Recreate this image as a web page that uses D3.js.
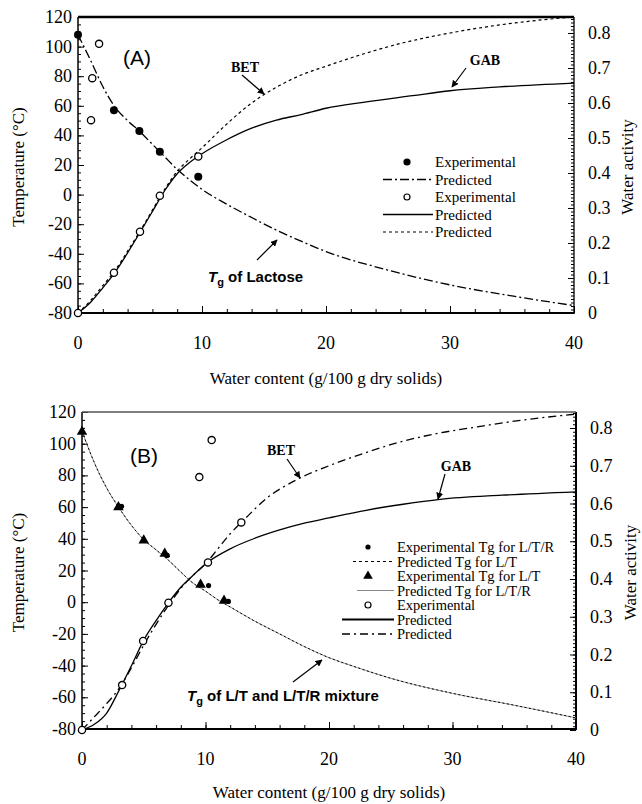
<!DOCTYPE html>
<html><head><meta charset="utf-8">
<script src="https://cdn.jsdelivr.net/npm/d3@7"></script>
<style>
body{margin:0;background:#fff}
svg{display:block}
.serif{font-family:"Liberation Serif","Times New Roman",Times,serif}
.sans{font-family:"Liberation Sans",Arial,Helvetica,sans-serif}
</style>
</head><body>
<svg id="chart" width="642" height="804"></svg>
<script>
// ---------- shared axis values ----------
const waterTicks = [0, 10, 20, 30, 40];
const tempTicks = [-80, -60, -40, -20, 0, 20, 40, 60, 80, 100, 120];
const awTicks = [0, 0.1, 0.2, 0.3, 0.4, 0.5, 0.6, 0.7, 0.8];
const awTickLabels = ["0", "0.1", "0.2", "0.3", "0.4", "0.5", "0.6", "0.7", "0.8"];

// ---------- panel A : lactose ----------
const aTgExpWater = [0, 2.9, 4.95, 6.6, 9.7];
const aTgExpTemp = [108, 57, 43, 29, 12];
const aAwExpWater = [0, 1.05, 1.15, 1.7, 2.9, 5.0, 6.6, 9.7];
const aAwExpValue = [0, 0.551, 0.671, 0.769, 0.115, 0.232, 0.335, 0.447];
const aTgPredWater = [0, 1, 2, 3, 4, 5, 6, 7, 8, 9, 10, 12, 14, 16, 18, 20, 25, 30, 35, 40];
const aTgPredTemp = [108, 91, 73, 59, 50, 42.5, 34, 25.5, 17, 10, 3.5, -6.5, -15.5, -24, -31.5, -38.5, -51, -61, -68.5, -75];
const aGabWater = [0, 1, 2, 3, 4, 5, 6, 7, 8, 9, 10, 12, 14, 16, 18, 20, 23, 27, 30, 34, 40];
const aGabAw = [0, 0.03, 0.072, 0.117, 0.172, 0.23, 0.29, 0.35, 0.398, 0.43, 0.455, 0.495, 0.528, 0.551, 0.567, 0.585, 0.602, 0.621, 0.635, 0.646, 0.657];
const aBetWater = [0, 1, 2, 3, 4, 5, 6, 7, 8, 9, 10, 12, 14, 16, 18, 20, 23, 26, 30, 34, 37, 40];
const aBetAw = [0, 0.035, 0.078, 0.122, 0.177, 0.234, 0.294, 0.354, 0.405, 0.44, 0.472, 0.54, 0.6, 0.645, 0.68, 0.705, 0.74, 0.77, 0.8, 0.823, 0.836, 0.846];

// ---------- panel B : L/T and L/T/R mixtures ----------
const bTgLTExpWater = [0, 2.95, 5.0, 6.7, 9.6, 11.5];
const bTgLTExpTemp = [107.5, 60, 39, 30.6, 11.1, 1];
const bTgLTRExpWater = [3.2, 6.9, 10.25, 11.85];
const bTgLTRExpTemp = [60.5, 29.5, 10.5, 0.5];
const bAwExpWater = [0, 3.25, 4.95, 7.0, 10.2, 12.9, 9.5, 10.5];
const bAwExpValue = [0, 0.119, 0.236, 0.337, 0.444, 0.55, 0.67, 0.768];
const bTgPredWater = [0, 1, 2, 3, 4, 5, 6, 7, 8, 9, 10, 11, 12, 14, 16, 18, 20, 22, 25, 30, 35, 40];
const bTgLTPredTemp = [108, 88, 72, 59.5, 48.5, 39.5, 33, 26.5, 19, 12, 7, 1.5, -3, -12, -20, -28, -35, -40.5, -48, -57.5, -65, -73];
const bTgLTRPredTemp = [108, 88, 72, 59.5, 48.5, 39.5, 33, 26.5, 19, 12, 7, 1.5, -3, -12, -20, -28, -35, -40.5, -48, -57.5, -65, -73];
const bGabWater = [0, 1, 2, 3, 4, 5, 6, 7, 8, 9, 10, 12, 14, 16, 18, 20, 23, 26, 29, 34, 40];
const bGabAw = [0, 0.015, 0.045, 0.105, 0.17, 0.238, 0.29, 0.337, 0.378, 0.41, 0.44, 0.48, 0.508, 0.53, 0.548, 0.562, 0.582, 0.598, 0.611, 0.622, 0.631];
const bBetWater = [0, 1, 2, 3, 4, 5, 6, 7, 8, 9, 10, 11, 12, 13, 15, 17.5, 20, 23, 26, 29, 32, 35, 40];
const bBetAw = [0, 0.035, 0.07, 0.11, 0.165, 0.225, 0.28, 0.33, 0.375, 0.41, 0.44, 0.48, 0.52, 0.553, 0.615, 0.665, 0.7, 0.735, 0.765, 0.787, 0.803, 0.818, 0.837];

const svg = d3.select("#chart");

// arrow head marker
svg.append("defs").append("marker")
  .attr("id", "head").attr("viewBox", "0 0 10 10").attr("refX", 9).attr("refY", 5)
  .attr("markerWidth", 7).attr("markerHeight", 7).attr("markerUnits", "userSpaceOnUse")
  .attr("orient", "auto")
  .append("path").attr("d", "M0,0L10,5L0,10Z").attr("fill", "#000");

const zip = (xs, ys) => xs.map((x, i) => [x, ys[i]]);

function makePanel(box) {
  const g = svg.append("g");
  const x = d3.scaleLinear().domain([0, 40]).range([box.x0, box.x1]);
  const t = d3.scaleLinear().domain([-80, 120]).range([box.yb, box.yt]);
  const a = d3.scaleLinear().domain([0, 0.8]).range([box.ab, box.a8]);

  // minor + major ticks, all pointing inwards
  const tick = (axis, yOff, xOff) => g.append("g")
    .attr("transform", `translate(${xOff},${yOff})`).call(axis)
    .call(s => s.select(".domain").remove())
    .call(s => s.selectAll("text").remove())
    .call(s => s.selectAll("line").attr("stroke", "#000").attr("stroke-width", 1));

  tick(d3.axisLeft(t).tickValues(d3.range(-80, 121, 5)).tickSize(-3), 0, box.x0);
  tick(d3.axisLeft(t).tickValues(tempTicks).tickSize(-6), 0, box.x0);
  tick(d3.axisBottom(x).tickValues(d3.range(0, 41, 2)).tickSize(-4), box.yb, 0);
  tick(d3.axisBottom(x).tickValues(waterTicks).tickSize(-7), box.yb, 0);
  const awMinor = d3.range(0, 85).map(i => i / 100).filter(v => a(v) >= box.yt);
  tick(d3.axisRight(a).tickValues(awMinor).tickSize(-3), 0, box.x1);
  tick(d3.axisRight(a).tickValues(awTicks).tickSize(-6), 0, box.x1);

  // frame
  const line = (x1, y1, x2, y2, w, c) => g.append("line")
    .attr("x1", x1).attr("y1", y1).attr("x2", x2).attr("y2", y2)
    .attr("stroke", c || "#000").attr("stroke-width", w);
  line(box.x0, box.yt, box.x0, box.yb, 1.5);
  line(box.x0, box.yb, box.x1, box.yb, 2.2);
  line(box.x1, box.yt, box.x1, box.yb + 1, box.rightW);
  line(box.x0, box.yt, box.x1, box.yt, box.topW, box.topC);

  // tick labels
  const lab = (txt, px, py, anchor) => g.append("text").text(txt).attr("class", "serif")
    .attr("x", px).attr("y", py).attr("text-anchor", anchor)
    .attr("font-size", 18).attr("fill", "#000");
  tempTicks.forEach(v => lab(String(v), box.x0 - 6, t(v) + 6, "end"));
  waterTicks.forEach(v => lab(String(v), x(v), box.yb + 36, "middle"));
  awTicks.forEach((v, i) => lab(awTickLabels[i], box.x1 + 14, a(v) + 6, "start"));

  // axis titles
  g.append("text").text("Water content (g/100 g dry solids)").attr("class", "serif")
    .attr("x", (box.x0 + box.x1) / 2).attr("y", box.yb + box.xTitleOff).attr("text-anchor", "middle")
    .attr("font-size", 17);
  g.append("text").text("Temperature (°C)").attr("class", "serif")
    .attr("transform", `translate(${box.tTitleX},${(box.yt + box.yb) / 2 + 2}) rotate(-90)`)
    .attr("text-anchor", "middle").attr("font-size", 17);
  g.append("text").text("Water activity").attr("class", "serif")
    .attr("transform", `translate(${box.aTitleX},${(box.yt + box.yb) / 2 + 2}) rotate(-90)`)
    .attr("text-anchor", "middle").attr("font-size", 17);

  return { g, x, t, a };
}

function curve(p, pts, yScale, style) {
  p.g.append("path")
    .attr("d", d3.line().x(d => p.x(d[0])).y(d => yScale(d[1])).curve(d3.curveMonotoneX)(pts))
    .attr("fill", "none").attr("stroke", style.color || "#000")
    .attr("stroke-width", style.width || 1.3)
    .attr("stroke-dasharray", style.dash || null);
}
function circles(p, pts, yScale, r, filled) {
  p.g.selectAll(null).data(pts).enter().append("circle")
    .attr("cx", d => p.x(d[0])).attr("cy", d => yScale(d[1])).attr("r", r)
    .attr("fill", filled ? "#000" : "#fff").attr("stroke", "#000").attr("stroke-width", filled ? 0 : 1.3);
}
function triangles(p, pts, yScale) {
  const sym = d3.symbol().type(d3.symbolTriangle).size(48);
  p.g.selectAll(null).data(pts).enter().append("path")
    .attr("d", sym).attr("transform", d => `translate(${p.x(d[0])},${yScale(d[1])})`).attr("fill", "#000");
}
function arrow(p, x1, y1, x2, y2) {
  p.g.append("line").attr("x1", x1).attr("y1", y1).attr("x2", x2).attr("y2", y2)
    .attr("stroke", "#000").attr("stroke-width", 1.2).attr("marker-end", "url(#head)");
}
function note(p, txt, px, py, size, cls, anchor) {
  p.g.append("text").text(txt).attr("class", cls).attr("x", px).attr("y", py)
    .attr("font-size", size).attr("font-weight", "bold")
    .attr("text-anchor", anchor || "middle");
}
function tgNote(p, rest, px, py) {
  const tx = p.g.append("text").attr("class", "sans").attr("x", px).attr("y", py)
    .attr("font-size", 15).attr("font-weight", "bold");
  tx.append("tspan").text("T").attr("font-style", "italic");
  tx.append("tspan").text("g").attr("font-size", 11).attr("dy", 4);
  tx.append("tspan").text(" " + rest).attr("dy", -4);
}

// ================= Panel A =================
const A = makePanel({ x0: 78, x1: 574, yt: 17, yb: 313, ab: 313, a8: 33,
  rightW: 1.3, topW: 2.5, topC: "#000", tTitleX: 24, aTitleX: 633, xTitleOff: 71 });

curve(A, zip(aTgPredWater, aTgPredTemp), A.t, { dash: "9,3,2,3" });
curve(A, zip(aGabWater, aGabAw), A.a, {});
curve(A, zip(aBetWater, aBetAw), A.a, { dash: "3,3", width: 1.2 });
circles(A, zip(aTgExpWater, aTgExpTemp), A.t, 4, true);
circles(A, zip(aAwExpWater, aAwExpValue), A.a, 3.6, false);

A.g.append("text").text("(A)").attr("class", "sans").attr("x", 137).attr("y", 65)
  .attr("text-anchor", "middle").attr("font-size", 21);
note(A, "BET", 245, 72, 14, "serif");
arrow(A, 242, 75, 264, 94);
note(A, "GAB", 485, 65, 14, "serif");
arrow(A, 466, 68, 452, 87);
tgNote(A, "of Lactose", 208, 282);
arrow(A, 257, 260, 277, 240);

// legend A
{
  const lx0 = 383, lx1 = 433, cx = 407, tx = 435, rows = [162, 179.5, 197, 214.5, 232];
  const L = A.g.append("g");
  const txt = (s, y) => L.append("text").text(s).attr("class", "serif").attr("x", tx).attr("y", y + 5)
    .attr("font-size", 15);
  const seg = (y, dash, w) => L.append("line").attr("x1", lx0).attr("x2", lx1).attr("y1", y).attr("y2", y)
    .attr("stroke", "#000").attr("stroke-width", w || 1.3).attr("stroke-dasharray", dash || null);
  L.append("circle").attr("cx", cx).attr("cy", rows[0]).attr("r", 3.6).attr("fill", "#000");
  txt("Experimental", rows[0]);
  seg(rows[1], "9,3,2,3", 1.5); txt("Predicted", rows[1]);
  L.append("circle").attr("cx", cx).attr("cy", rows[2]).attr("r", 3).attr("fill", "#fff").attr("stroke", "#000").attr("stroke-width", 1.2);
  txt("Experimental", rows[2]);
  seg(rows[3]); txt("Predicted", rows[3]);
  seg(rows[4], "3,3", 1.2); txt("Predicted", rows[4]);
}

// ================= Panel B =================
const B = makePanel({ x0: 82, x1: 576, yt: 412, yb: 729, ab: 730, a8: 428,
  rightW: 2, topW: 1.5, topC: "#555", tTitleX: 24, aTitleX: 636, xTitleOff: 69 });

curve(B, zip(bTgPredWater, bTgLTRPredTemp), B.t, { color: "#888", width: 0.9 });
curve(B, zip(bTgPredWater, bTgLTPredTemp), B.t, { dash: "2,2.5", width: 1 });
curve(B, zip(bGabWater, bGabAw), B.a, {});
curve(B, zip(bBetWater, bBetAw), B.a, { dash: "8,4,2,4" });
triangles(B, zip(bTgLTExpWater, bTgLTExpTemp), B.t);
circles(B, zip(bTgLTRExpWater, bTgLTRExpTemp), B.t, 2.6, true);
circles(B, zip(bAwExpWater, bAwExpValue), B.a, 3.6, false);

B.g.append("text").text("(B)").attr("class", "sans").attr("x", 144).attr("y", 463)
  .attr("text-anchor", "middle").attr("font-size", 21);
note(B, "BET", 281, 455, 14, "serif");
arrow(B, 287, 459, 300, 478);
note(B, "GAB", 456, 471, 14, "serif");
arrow(B, 445, 474, 438, 499);
tgNote(B, "of L/T and L/T/R mixture", 187, 701);
arrow(B, 293, 682, 322, 660);

// legend B
{
  const cx = 368, tx = 397, rows = [547, 561.5, 576, 590.5, 605, 619.5, 634];
  const L = B.g.append("g");
  const txt = (s, y) => L.append("text").text(s).attr("class", "serif").attr("x", tx).attr("y", y + 5)
    .attr("font-size", 14.5);
  const seg = (y, x0, x1, dash, w, c) => L.append("line").attr("x1", x0).attr("x2", x1).attr("y1", y).attr("y2", y)
    .attr("stroke", c || "#000").attr("stroke-width", w).attr("stroke-dasharray", dash || null);
  L.append("circle").attr("cx", cx).attr("cy", rows[0]).attr("r", 2.6).attr("fill", "#000");
  txt("Experimental Tg for L/T/R", rows[0]);
  seg(rows[1], 353, 394, "3,3", 1.1); txt("Predicted Tg for L/T", rows[1]);
  L.append("path").attr("d", d3.symbol().type(d3.symbolTriangle).size(40))
    .attr("transform", `translate(${cx},${rows[2]})`).attr("fill", "#000");
  txt("Experimental Tg for L/T", rows[2]);
  seg(rows[3], 357, 394, null, 1, "#888"); txt("Predicted Tg for L/T/R", rows[3]);
  L.append("circle").attr("cx", cx).attr("cy", rows[4]).attr("r", 3).attr("fill", "#fff").attr("stroke", "#000").attr("stroke-width", 1.2);
  txt("Experimental", rows[4]);
  seg(rows[5], 342, 394, null, 2); txt("Predicted", rows[5]);
  seg(rows[6], 342, 394, "8,4,2,4", 1.3); txt("Predicted", rows[6]);
}
</script>
</body></html>
